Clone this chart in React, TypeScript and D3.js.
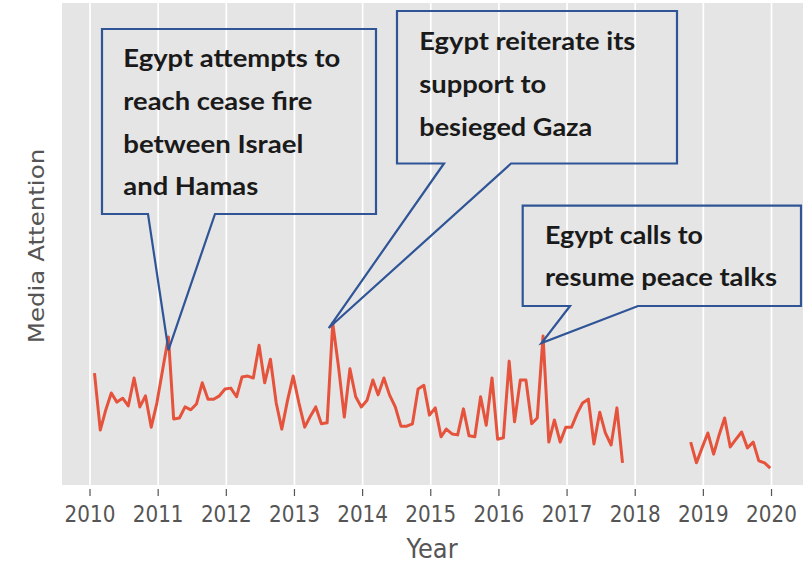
import React from "react";
import * as d3 from "d3";

// ---- data ----
const months: Date[] = d3.timeMonth
  .range(new Date(2010, 0, 1), new Date(2020, 0, 1))
  .map((d) => d3.timeDay.offset(d, 24));

const attention: (number | null)[] = [
  // 2010
  23.2, 11.4, 15.4, 19.1, 17.2, 18.0, 16.4, 22.2, 16.2, 18.5, 12.0, 17.0,
  // 2011
  23.9, 30.7, 13.7, 13.9, 16.2, 15.6, 16.8, 21.2, 17.8, 17.8, 18.5, 19.9,
  // 2012
  20.1, 18.3, 22.4, 22.6, 22.2, 29.0, 21.2, 26.1, 17.0, 11.6, 17.6, 22.6,
  // 2013
  17.0, 12.0, 14.1, 16.2, 12.7, 12.9, 33.6, 24.5, 14.1, 24.1, 18.3, 16.2,
  // 2014
  17.6, 21.8, 18.7, 22.2, 18.7, 16.2, 12.2, 12.2, 12.7, 19.9, 20.7, 14.5,
  // 2015
  16.0, 10.0, 11.6, 10.6, 10.4, 15.8, 10.2, 10.0, 18.3, 12.4, 22.2, 9.5,
  // 2016
  9.8, 25.7, 13.1, 21.8, 21.8, 12.7, 13.9, 30.9, 8.9, 13.5, 8.9, 12.0,
  // 2017
  12.0, 14.9, 17.0, 17.8, 8.5, 15.1, 10.8, 8.3, 16.0, 4.6, null, null,
  // 2018
  null, null, null, null, null, null, null, null, null, 8.9, 4.6, 7.7,
  // 2019
  10.8, 6.4, 10.2, 13.9, 7.9, 9.5, 11.0, 7.7, 8.9, 5.0, 4.6, 3.5,
];

const yearTicks: number[] = [2010, 2011, 2012, 2013, 2014, 2015, 2016, 2017, 2018, 2019, 2020];

const annotationMonths: number[] = [13, 42, 79];
const annotationTexts: string[][] = [
  ["Egypt attempts to", "reach cease fire", "between Israel", "and Hamas"],
  ["Egypt reiterate its", "support to", "besieged Gaza"],
  ["Egypt calls to", "resume peace talks"],
];

// ---- layout ----
const W = 812;
const H = 564;
const plot = { left: 62, right: 803, top: 3, bottom: 485 };

const boxes = [
  { x0: 102, y0: 29, x1: 376, y1: 214, b0: 148, b1: 215, dx: 0, dy: 13, tx: 123.3, ty: 67.3, lh: 42.6, widths: [217, 189, 180, 135] },
  { x0: 397, y0: 11, x1: 677, y1: 163.5, b0: 444, b1: 511, dx: -4, dy: 5, tx: 419.3, ty: 50, lh: 43, widths: [216, 127, 173] },
  { x0: 522.7, y0: 205.7, x1: 801, y1: 306, b0: 570, b1: 638, dx: -1.5, dy: 7, tx: 545, ty: 244.3, lh: 41.4, widths: [158, 232] },
];

const fracYear = (d: Date) => {
  const y = d.getFullYear();
  const s = new Date(y, 0, 1).getTime();
  const e = new Date(y + 1, 0, 1).getTime();
  return y + (d.getTime() - s) / (e - s);
};

export default function App() {
  const x = d3.scaleLinear().domain([2009.589, 2020.462]).range([plot.left, plot.right]);
  const y = d3.scaleLinear().domain([0, 100]).range([plot.bottom, plot.top]);

  const pts = months.map((d, i) => ({ t: fracYear(d), v: attention[i] }));
  const line = d3
    .line<{ t: number; v: number | null }>()
    .defined((p) => p.v != null)
    .x((p) => x(p.t))
    .y((p) => y(p.v as number));

  return (
    <svg width={W} height={H} style={{ position: "absolute", left: 0, top: 0 }}>
      <rect x={0} y={0} width={W} height={H} fill="#ffffff" />
      <rect
        x={plot.left}
        y={plot.top}
        width={plot.right - plot.left}
        height={plot.bottom - plot.top}
        fill="#E5E5E5"
      />
      {yearTicks.map((t) => (
        <line key={"g" + t} x1={x(t)} x2={x(t)} y1={plot.top} y2={plot.bottom} stroke="#ffffff" strokeWidth={1.7} />
      ))}
      <path d={line(pts) || ""} fill="none" stroke="#E5533C" strokeWidth={3} strokeLinejoin="round" />

      {/* x axis ticks & labels */}
      {yearTicks.map((t) => (
        <g key={"t" + t}>
          <line x1={x(t)} x2={x(t)} y1={489} y2={496} stroke="#555555" strokeWidth={1.2} />
          <text
            transform={`translate(${x(t)},522) scale(0.85,1)`}
            textAnchor="middle"
            fontFamily="DejaVu Sans"
            fontSize={23.5}
            fill="#555555"
          >
            {t}
          </text>
        </g>
      ))}
      <text
        transform={`translate(432,558) scale(0.93,1)`}
        textAnchor="middle"
        fontFamily="DejaVu Sans"
        fontSize={26}
        fill="#555555"
      >
        Year
      </text>
      <text
        transform={`translate(44,246) scale(0.9,1) rotate(-90)`}
        textAnchor="middle"
        fontFamily="DejaVu Sans"
        fontSize={24.5}
        fill="#555555"
      >
        Media Attention
      </text>

      {/* callouts */}
      {boxes.map((b, k) => {
        const i = annotationMonths[k];
        const px = x(pts[i].t) + b.dx;
        const py = y(pts[i].v as number) + b.dy;
        const d = `M${b.x0},${b.y0} L${b.x1},${b.y0} L${b.x1},${b.y1} L${b.b1},${b.y1} L${px},${py} L${b.b0},${b.y1} L${b.x0},${b.y1} Z`;
        return (
          <g key={"c" + k}>
            <path d={d} fill="none" stroke="#2F5597" strokeWidth={2.2} strokeLinejoin="miter" />
            {annotationTexts[k].map((s, j) => (
              <text
                key={j}
                x={b.tx}
                y={b.ty + j * b.lh}
                fontFamily="Lato"
                fontWeight="bold"
                fontSize={24}
                fill="#1a1a1a"
                textLength={b.widths[j]}
                lengthAdjust="spacingAndGlyphs"
              >
                {s}
              </text>
            ))}
          </g>
        );
      })}
    </svg>
  );
}
